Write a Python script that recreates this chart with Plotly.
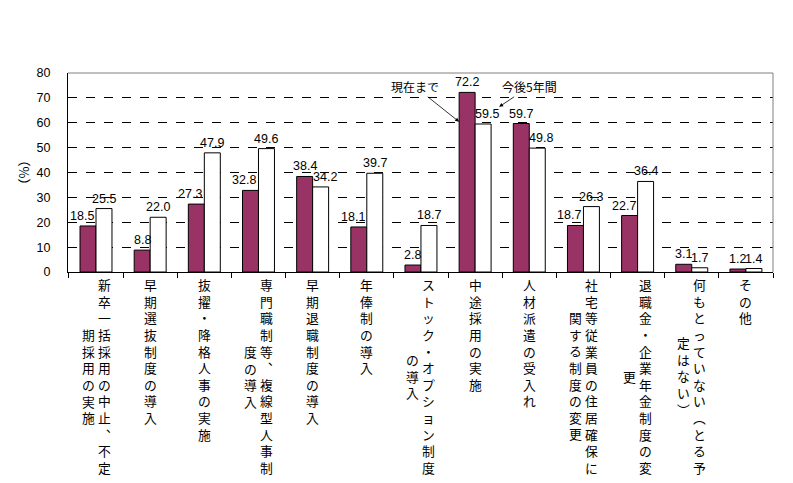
import plotly.graph_objects as go

# ---- data ----
label_columns = [
    ["新卒一括採用の中止、不定", "期採用の実施"],
    ["早期選抜制度の導入"],
    ["抜擢・降格人事の実施"],
    ["専門職制等、複線型人事制", "度の導入"],
    ["早期退職制度の導入"],
    ["年俸制の導入"],
    ["ストック・オプション制度", "の導入"],
    ["中途採用の実施"],
    ["人材派遣の受入れ"],
    ["社宅等従業員の住居確保に", "関する制度の変更"],
    ["退職金・企業年金制度の変", "更"],
    ["何もとっていない（とる予", "定はない）"],
    ["その他"],
]
categories = ["".join(c) for c in label_columns]
series_names = ["現在まで", "今後5年間"]
values_now = [18.5, 8.8, 27.3, 32.8, 38.4, 18.1, 2.8, 72.2, 59.7, 18.7, 22.7, 3.1, 1.2]
values_future = [25.5, 22.0, 47.9, 49.6, 34.2, 39.7, 18.7, 59.5, 49.8, 26.3, 36.4, 1.7, 1.4]
y_ticks = [0, 10, 20, 30, 40, 50, 60, 70, 80]

FONT = "Liberation Sans, Noto Sans CJK JP, sans-serif"
JFONT = "Noto Sans CJK JP, sans-serif"

fig = go.Figure()
fig.add_trace(go.Bar(
    name=series_names[0], x=categories, y=values_now,
    marker=dict(color="#993366", line=dict(color="black", width=1)),
))
fig.add_trace(go.Bar(
    name=series_names[1], x=categories, y=values_future,
    marker=dict(color="white", line=dict(color="black", width=1)),
))

annotations = []

# data labels (nudged sideways like the original when the neighbouring bar is taller)
for cat, a, b in zip(categories, values_now, values_future):
    sa, sb = f"{a:.1f}", f"{b:.1f}"
    dx_a = -6 if (b > a and len(sa) > 3) else 0
    dx_b = 4 if (a > b and len(sb) > 3) else 0
    annotations.append(dict(
        x=cat, xref="x", y=a, yref="y", yanchor="bottom", xanchor="center",
        xshift=-8 + dx_a, yshift=1, text=sa, showarrow=False,
        font=dict(size=12.5, color="black", family=FONT),
    ))
    annotations.append(dict(
        x=cat, xref="x", y=b, yref="y", yanchor="bottom", xanchor="center",
        xshift=8 + dx_b, yshift=1, text=sb, showarrow=False,
        font=dict(size=12.5, color="black", family=FONT),
    ))

vert_map = {"、": "︑", "（": "︵", "）": "︶"}

def vert(s):
    return "<br>".join(vert_map.get(ch, ch) for ch in s)

FS = 12.8
LINE_H = FS * 1.3
for cat, cols in zip(categories, label_columns):
    n1 = len(cols[0])
    shifts = [0] if len(cols) == 1 else [8, -8]
    for col, xs in zip(cols, shifts):
        off = (n1 - len(col)) / 2 * LINE_H
        annotations.append(dict(
            x=cat, xref="x", y=0, yref="paper", yanchor="top", xanchor="center",
            xshift=xs, yshift=-1 - off, text=vert(col), showarrow=False,
            font=dict(size=FS, color="black", family=JFONT), align="center",
        ))

# series callouts
annotations.append(dict(
    x=categories[7], xref="x", y=60.4, yref="y", xshift=-16,
    text=series_names[0], showarrow=True, ax=-44, ay=-35,
    arrowhead=2, arrowsize=1, arrowwidth=0.8, arrowcolor="black",
    font=dict(size=12, color="black", family=JFONT),
))
annotations.append(dict(
    x=categories[7], xref="x", y=66.4, yref="y", xshift=24,
    text=series_names[1], showarrow=True, ax=30, ay=-20,
    arrowhead=2, arrowsize=1, arrowwidth=0.8, arrowcolor="black",
    font=dict(size=12, color="black", family=JFONT),
))

# page body has an 8px margin: size the figure so the plot lands where the reference has it
fig.update_layout(
    width=785, height=475,
    margin=dict(l=60, r=20, t=65, b=211),
    paper_bgcolor="white", plot_bgcolor="white",
    barmode="group", bargap=0.41, bargroupgap=0,
    showlegend=False,
    font=dict(family=FONT, size=12, color="black"),
    annotations=annotations,
    shapes=[
        dict(type="line", xref="paper", yref="paper", x0=0, x1=1, y0=1, y1=1,
             line=dict(color="#808080", width=1)),
        dict(type="line", xref="paper", yref="paper", x0=1, x1=1, y0=0, y1=1,
             line=dict(color="#808080", width=1)),
    ],
)
fig.update_xaxes(
    showticklabels=False, ticks="outside", tickson="boundaries", ticklen=5,
    tickcolor="black", showline=True, linecolor="black", linewidth=1,
    showgrid=False,
)
fig.update_yaxes(
    range=[0, 80], tickvals=y_ticks, ticks="", showline=True, linecolor="black",
    linewidth=1, showgrid=True, gridcolor="black", griddash="dash", gridwidth=1,
    zeroline=False, tickfont=dict(size=12.5, family=FONT), ticklabelstandoff=14,
    title=dict(text="（%）", font=dict(size=13, family=JFONT), standoff=4),
)

fig.write_html("out.html")
